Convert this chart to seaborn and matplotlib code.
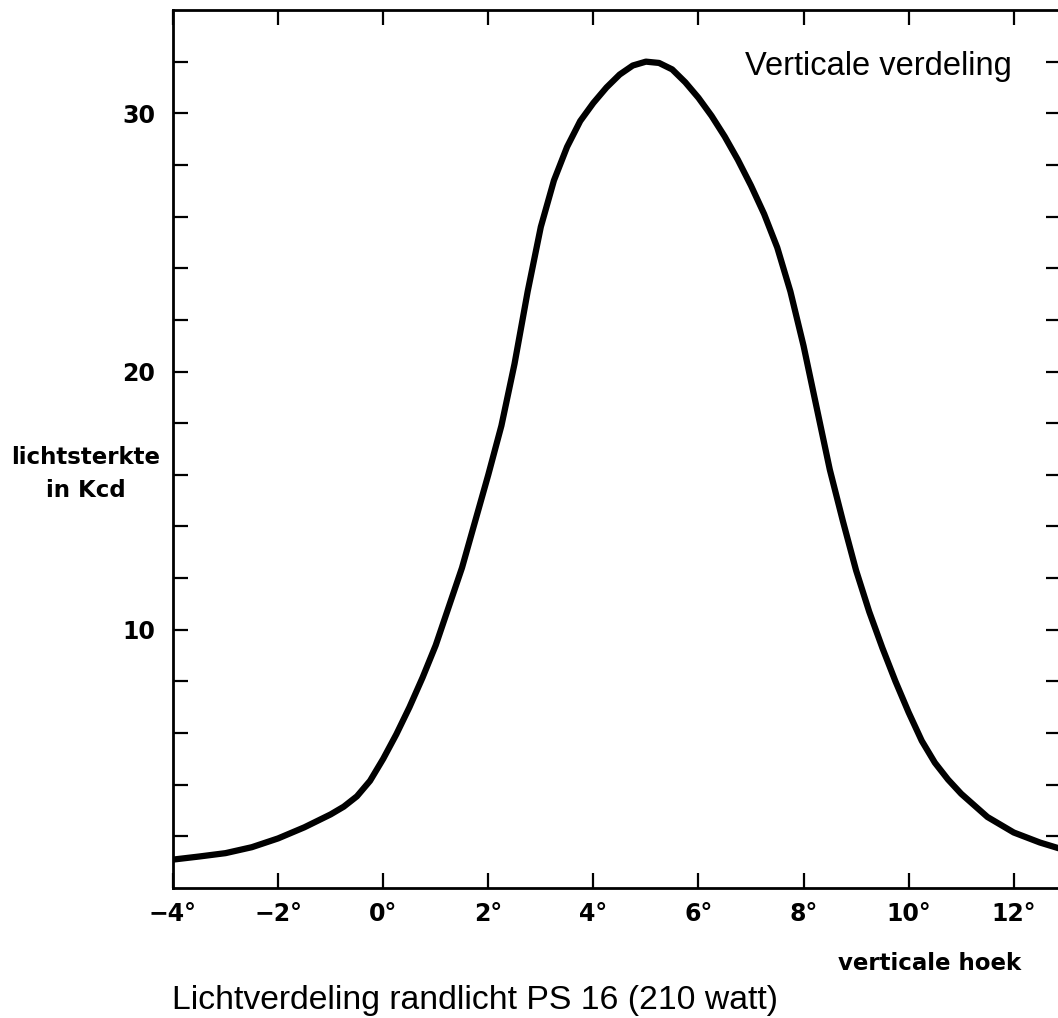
import matplotlib
matplotlib.use("Agg")
import matplotlib.pyplot as plt
import seaborn as sns
import pandas as pd

# ---- data ----
angle_deg = [-4, -3.5, -3, -2.5, -2, -1.5, -1, -0.75, -0.5, -0.25, 0, 0.25,
             0.5, 0.75, 1, 1.25, 1.5, 1.75, 2, 2.25, 2.5, 2.75, 3, 3.25, 3.5,
             3.75, 4, 4.25, 4.5, 4.75, 5, 5.25, 5.5, 5.75, 6, 6.25, 6.5, 6.75,
             7, 7.25, 7.5, 7.75, 8, 8.25, 8.5, 8.75, 9, 9.25, 9.5, 9.75, 10,
             10.25, 10.5, 10.75, 11, 11.5, 12, 12.5, 13]
intensity_kcd = [1.1, 1.22, 1.35, 1.58, 1.92, 2.35, 2.85, 3.15, 3.55, 4.15,
                 5.0, 5.95, 7.0, 8.15, 9.4, 10.9, 12.4, 14.2, 16.0, 17.9,
                 20.3, 23.1, 25.6, 27.4, 28.7, 29.7, 30.4, 31.0, 31.5, 31.85,
                 32.0, 31.95, 31.7, 31.2, 30.6, 29.9, 29.1, 28.2, 27.2, 26.1,
                 24.8, 23.1, 21.0, 18.6, 16.2, 14.2, 12.3, 10.7, 9.3, 8.0,
                 6.8, 5.7, 4.85, 4.2, 3.65, 2.75, 2.15, 1.76, 1.45]

x_ticks = [-4, -2, 0, 2, 4, 6, 8, 10, 12]
x_tick_labels = ["−4°", "−2°", "0°", "2°", "4°", "6°", "8°", "10°", "12°"]
y_ticks = [2, 4, 6, 8, 10, 12, 14, 16, 18, 20, 22, 24, 26, 28, 30, 32]
y_labeled = [10, 20, 30]

title_text = "Verticale verdeling"
ylabel_text = "lichtsterkte\nin Kcd"
xlabel_text = "verticale hoek"
caption_text = "Lichtverdeling randlicht PS 16 (210 watt)"

df = pd.DataFrame({"angle": angle_deg, "kcd": intensity_kcd})

sns.set_style("ticks")
plt.rcParams["font.family"] = ["Liberation Sans", "DejaVu Sans"]
BOLD_FAMILY = ["DejaVu Sans"]

W, H = 1058, 1018
fig = plt.figure(figsize=(W / 100, H / 100), dpi=100)

def fx(px):
    return px / W

def fy(py):
    return 1 - py / H

left_px, right_px, top_px, bottom_px = 173, 1061, 10, 888
ax = fig.add_axes([fx(left_px), fy(bottom_px),
                   (right_px - left_px) / W, (bottom_px - top_px) / H])

sns.lineplot(data=df, x="angle", y="kcd", ax=ax, color="black",
             linewidth=4.5, solid_capstyle="round", solid_joinstyle="round")

ax.set_xlim(-4, 12.9)
ax.set_ylim(0, 34.0)

for side in ["left", "bottom", "top"]:
    ax.spines[side].set_linewidth(2.0)
    ax.spines[side].set_color("black")
ax.spines["right"].set_visible(False)

ax.set_xticks(x_ticks)
ax.set_xticklabels(x_tick_labels, fontsize=17, fontweight="bold",
                   family=BOLD_FAMILY)
ax.set_yticks(y_ticks)
ax.set_yticklabels([str(v) if v in y_labeled else "" for v in y_ticks],
                   fontsize=17, fontweight="bold", family=BOLD_FAMILY)

ax.tick_params(axis="x", direction="in", length=11, width=1.6, pad=10,
               top=True, bottom=True, colors="black")
ax.tick_params(axis="y", direction="in", length=11, width=1.6, pad=13,
               left=True, right=True, colors="black")
ax.set_xlabel("")
ax.set_ylabel("")
ax.grid(False)

fig.text(fx(1012), fy(75), title_text, ha="right", va="baseline",
         fontsize=23.5, color="black")
fig.text(fx(86), fy(474), ylabel_text, ha="center", va="center",
         fontsize=16.5, fontweight="bold", family=BOLD_FAMILY,
         linespacing=1.55, color="black")
fig.text(fx(930), fy(963), xlabel_text, ha="center", va="center",
         fontsize=16.5, fontweight="bold", family=BOLD_FAMILY, color="black")
fig.text(fx(172), fy(1000), caption_text, ha="left", va="center",
         fontsize=24.3, color="black")

fig.savefig("out.png", dpi=100, facecolor="white")
